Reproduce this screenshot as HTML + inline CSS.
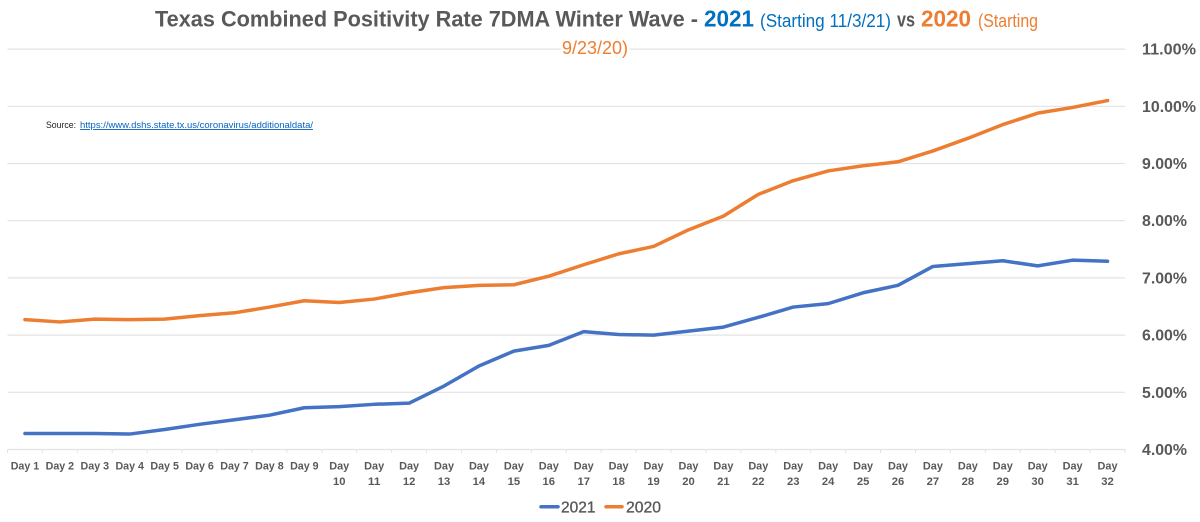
<!DOCTYPE html>
<html>
<head>
<meta charset="utf-8">
<style>
html,body{margin:0;padding:0;background:#fff;width:1200px;height:522px;overflow:hidden}
svg{display:block;font-family:"Liberation Sans",sans-serif}
</style>
</head>
<body>
<svg id="chart" width="1200" height="522" viewBox="0 0 1200 522" xmlns="http://www.w3.org/2000/svg">
  <rect width="1200" height="522" fill="#fff"/>
  <g id="grid"></g>
  <g id="xaxis"></g>
  <g id="yaxis"></g>
  <g id="lines"></g>
  <g>
    <text x="155" y="26.5" font-size="22.5" font-weight="bold" fill="#595959" textLength="543" lengthAdjust="spacingAndGlyphs">Texas Combined Positivity Rate 7DMA Winter Wave -</text>
    <text x="704" y="26.5" font-size="23" font-weight="bold" fill="#0070c0" textLength="50" lengthAdjust="spacingAndGlyphs">2021</text>
    <text x="760" y="27" font-size="18" fill="#0070c0" textLength="131" lengthAdjust="spacingAndGlyphs">(Starting 11/3/21)</text>
    <text x="897" y="26.5" font-size="20" font-weight="bold" fill="#595959" textLength="18" lengthAdjust="spacingAndGlyphs">vs</text>
    <text x="921" y="26.5" font-size="23" font-weight="bold" fill="#ed7d31" textLength="50" lengthAdjust="spacingAndGlyphs">2020</text>
    <text x="978" y="27" font-size="18" fill="#ed7d31" textLength="60" lengthAdjust="spacingAndGlyphs">(Starting</text>
    <rect x="561" y="38" width="69" height="20" fill="#fff"/>
    <text x="562" y="54" font-size="18" fill="#ed7d31" textLength="66" lengthAdjust="spacingAndGlyphs">9/23/20)</text>
  </g>
  <g>
    <text x="46" y="128" font-size="9" fill="#222" textLength="30" lengthAdjust="spacingAndGlyphs">Source:</text>
    <text x="80" y="128" font-size="9" fill="#0563c1" text-decoration="underline" textLength="233" lengthAdjust="spacingAndGlyphs">https://www.dshs.state.tx.us/coronavirus/additionaldata/</text>
  </g>
  <g>
    <g>
      <line x1="541" y1="506.7" x2="558" y2="506.7" stroke="#4472c4" stroke-width="3.5" stroke-linecap="round"/>
      <text x="561" y="512.5" font-size="16" fill="#595959" stroke="#595959" stroke-width="0.35" textLength="34.5" lengthAdjust="spacingAndGlyphs">2021</text>
    </g>
    <g>
      <line x1="606" y1="506.7" x2="622" y2="506.7" stroke="#ed7d31" stroke-width="3.5" stroke-linecap="round"/>
      <text x="626" y="512.5" font-size="16" fill="#595959" stroke="#595959" stroke-width="0.35" textLength="35" lengthAdjust="spacingAndGlyphs">2020</text>
    </g>
  </g>
</svg>
<script>
const categories = ["1","2","3","4","5","6","7","8","9","10","11","12","13","14","15","16","17","18","19","20","21","22","23","24","25","26","27","28","29","30","31","32"];
const series2021 = [4.28,4.28,4.28,4.27,4.35,4.44,4.52,4.60,4.73,4.75,4.79,4.81,5.11,5.46,5.72,5.82,6.06,6.01,6.00,6.07,6.14,6.31,6.49,6.55,6.74,6.87,7.20,7.25,7.30,7.21,7.31,7.29];
const series2020 = [6.27,6.23,6.28,6.27,6.28,6.34,6.39,6.49,6.60,6.57,6.63,6.74,6.83,6.87,6.88,7.03,7.23,7.42,7.55,7.84,8.08,8.46,8.70,8.87,8.96,9.03,9.22,9.44,9.68,9.88,9.98,10.10];
const yTicks = [4,5,6,7,8,9,10,11];

const NS = "http://www.w3.org/2000/svg";
const plotLeft = 7.5, plotRight = 1125, y4 = 449.5, pxPerUnit = 57.2;
const band = (plotRight - plotLeft) / categories.length;
const xScale = i => plotLeft + band * (i + 0.5);
const yScale = v => y4 - (v - 4) * pxPerUnit;

function mk(tag, attrs, parent) {
  const el = document.createElementNS(NS, tag);
  for (const k in attrs) el.setAttribute(k, attrs[k]);
  parent.appendChild(el);
  return el;
}

const gridG = document.getElementById("grid");
const yG = document.getElementById("yaxis");
const xG = document.getElementById("xaxis");
const linesG = document.getElementById("lines");

yTicks.forEach(t => {
  const gl = mk("line", {x1: plotLeft, x2: plotRight, y1: yScale(t), y2: yScale(t), stroke: "#e3e3e3", "stroke-width": 1.2}, gridG);
  
  
  const lab = mk("text", {x: 1142, y: yScale(t) + 5.5, "font-size": 15.5, "font-weight": "bold", fill: "#595959", textLength: t >= 10 ? 54 : 45, lengthAdjust: "spacingAndGlyphs"}, yG);
  
  
  lab.textContent = t.toFixed(2) + "%";
});

for (let i = 0; i <= categories.length; i++) {
  const x = plotLeft + band * i;
  const tick = mk("line", {x1: x, x2: x, y1: y4, y2: y4 + 3.5, stroke: "#e3e3e3", "stroke-width": 1}, xG);
  
  
}

categories.forEach((c, i) => {
  const x = xScale(i);
  const attrs = {x: x, "text-anchor": "middle", "font-size": 11, "font-weight": "bold", fill: "#595959"};
  if (c.length === 1) {
    const t = mk("text", Object.assign({y: 469.5, textLength: 28.5, lengthAdjust: "spacingAndGlyphs"}, attrs), xG);
    
    
    t.textContent = "Day " + c;
  } else {
    const t1 = mk("text", Object.assign({y: 469.5, textLength: 20, lengthAdjust: "spacingAndGlyphs"}, attrs), xG);
    
    
    t1.textContent = "Day";
    const t2 = mk("text", Object.assign({y: 485, textLength: 12.5, lengthAdjust: "spacingAndGlyphs"}, attrs), xG);
    
    
    t2.textContent = c;
  }
});

function drawSeries(values, color) {
  const d = values.map((v, i) => (i ? "L" : "M") + xScale(i).toFixed(2) + " " + yScale(v).toFixed(2)).join(" ");
  return mk("path", {d: d, fill: "none", stroke: color, "stroke-width": 3.5, "stroke-linecap": "round", "stroke-linejoin": "round"}, linesG);
}
const line2021 = drawSeries(series2021, "#4472c4");


const line2020 = drawSeries(series2020, "#ed7d31");


</script>
</body>
</html>
